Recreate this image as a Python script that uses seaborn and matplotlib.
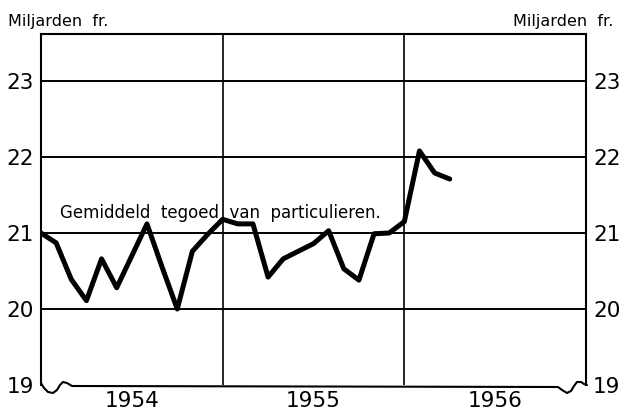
import matplotlib
matplotlib.use("Agg")
import matplotlib.pyplot as plt
import seaborn as sns
import pandas as pd

# monthly average balance of private persons, billions of francs
months = ["1954-01", "1954-02", "1954-03", "1954-04", "1954-05", "1954-06",
          "1954-07", "1954-08", "1954-09", "1954-10", "1954-11", "1954-12",
          "1955-01", "1955-02", "1955-03", "1955-04", "1955-05", "1955-06",
          "1955-07", "1955-08", "1955-09", "1955-10", "1955-11", "1955-12",
          "1956-01", "1956-02", "1956-03", "1956-04"]
saldo = [21.00, 20.87, 20.39, 20.11, 20.66, 20.28, 20.70, 21.12, 20.55, 20.00, 20.76, 20.98,
         21.18, 21.12, 21.12, 20.42, 20.66, 20.76, 20.86, 21.03, 20.53, 20.38, 20.99, 21.00,
         21.15, 22.08, 21.79, 21.71]
years = [1954, 1955, 1956]
y_ticks = [19, 20, 21, 22, 23]
unit_label = "Miljarden  fr."
series_label = "Gemiddeld  tegoed  van  particulieren."

df = pd.DataFrame({"maand": pd.to_datetime(months), "saldo": saldo})
df["jaar"] = df["maand"].dt.year + (df["maand"].dt.month - 1) / 12

sns.set_style("white")
plt.rcParams["font.family"] = ["DejaVu Sans"]
plt.rcParams["text.color"] = "black"
plt.rcParams["xtick.color"] = "black"
plt.rcParams["ytick.color"] = "black"

W, H = 622, 413
fig = plt.figure(figsize=(W / 100, H / 100), dpi=100)
ax = fig.add_axes([41 / W, 1 - 385 / H, 545 / W, 351 / H])

for y in y_ticks[1:]:
    ax.axhline(y, color="black", lw=1.4, zorder=1)
for x in years[1:]:
    ax.axvline(x, color="black", lw=1.2, zorder=1)

sns.lineplot(data=df, x="jaar", y="saldo", color="black", lw=3.6, ax=ax, zorder=3)

ax.set_xlim(years[0], years[-1] + 1)
ax.set_ylim(19, 19 + 351 / 76)
ax.set_xlabel("")
ax.set_ylabel("")
ax.set_yticks(y_ticks)
ax.set_yticklabels([str(v) for v in y_ticks])
ax.set_xticks([y + 0.5 for y in years])
ax.set_xticklabels([str(y) for y in years])
ax.tick_params(axis="y", length=0, labelsize=15.5, pad=5, labelright=True)
ax.tick_params(axis="x", length=0, labelsize=15.5, pad=4)

for s in ["left", "right", "top"]:
    ax.spines[s].set_visible(True)
    ax.spines[s].set_color("black")
    ax.spines[s].set_linewidth(1.5)
ax.spines["bottom"].set_visible(False)

# bottom edge with the little break waves at both ends
edge = [(41, 383), (44, 388), (48, 392), (53, 393), (57, 390), (60, 385), (63, 382),
        (67, 383), (72, 386), (558, 387), (562, 390), (567, 393), (571, 391),
        (574, 386), (577, 382), (581, 382), (584, 384), (587, 385)]
ax.plot([p[0] / W for p in edge], [1 - p[1] / H for p in edge], color="black",
        lw=1.5, transform=fig.transFigure, clip_on=False)

ax.text(1954.105, 21.2, series_label, fontsize=12, va="baseline", ha="left")
fig.text(8 / W, 1 - 26 / H, unit_label, fontsize=11.5, va="baseline", ha="left")
fig.text(613 / W, 1 - 26 / H, unit_label, fontsize=11.5, va="baseline", ha="right")

fig.savefig("out.png", dpi=100)
